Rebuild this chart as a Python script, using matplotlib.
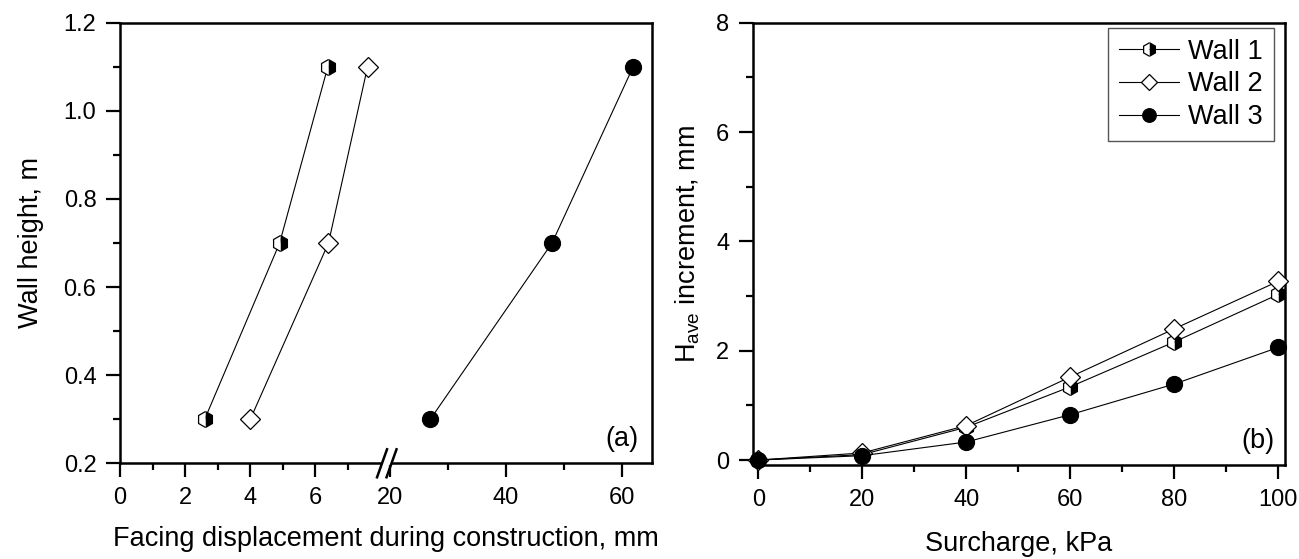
import matplotlib
matplotlib.use('Agg')
import matplotlib.pyplot as plt
import numpy as np

plt.rcParams['font.family'] = ['Liberation Sans', 'DejaVu Sans']
plt.rcParams['mathtext.fontset'] = 'custom'
plt.rcParams['mathtext.rm'] = 'Liberation Sans'
plt.rcParams['mathtext.it'] = 'Liberation Sans'

# (a) facing displacement vs wall height
height = [0.3, 0.7, 1.1]
disp_w1 = [2.6, 4.9, 6.38]
disp_w2 = [4.0, 6.4, 7.6]
disp_w3 = [27.0, 48.0, 62.0]

# (b) H_ave increment vs surcharge
surcharge = [0, 20, 40, 60, 80, 100]
hinc_w1 = [0.0, 0.10, 0.60, 1.34, 2.16, 3.03]
hinc_w2 = [0.0, 0.13, 0.63, 1.52, 2.40, 3.27]
hinc_w3 = [0.0, 0.08, 0.33, 0.83, 1.39, 2.06]

labels = ['Wall 1', 'Wall 2', 'Wall 3']

TICK_FS = 17
LABEL_FS = 19.5

# broken x axis: 0-8.15 stretched, 19.6 upwards compressed
brk_x = [-100, 0, 8.15, 19.6, 1000]
brk_p = [-100, 0, 8.15, 8.211, 8.211 + 980.4 * 0.1779]

def fwd(x):
    return np.interp(x, brk_x, brk_p)

def inv(p):
    return np.interp(p, brk_p, brk_x)

styles = [
    dict(marker='h', fillstyle='right', markerfacecolor='black',
         markerfacecoloralt='white', markeredgecolor='black', ms=11.5),
    dict(marker='D', markerfacecolor='white', markeredgecolor='black', ms=10),
    dict(marker='o', markerfacecolor='black', markeredgecolor='black', ms=11.5),
]

fig = plt.figure(figsize=(12.99, 5.59), dpi=100)
ax1 = fig.add_axes([0.0924, 0.1712, 0.4093, 0.7882])
ax2 = fig.add_axes([0.5797, 0.1682, 0.4095, 0.7912])

for xs, st in zip([disp_w1, disp_w2, disp_w3], styles):
    ax1.plot(xs, height, color='black', lw=0.8, mew=0.9, **st)

ax1.set_xscale('function', functions=(fwd, inv))
ax1.set_xlim(0, 65.2)
ax1.set_ylim(0.2, 1.2)
ax1.set_xticks([0, 2, 4, 6, 20, 40, 60])
ax1.set_xticks([1, 3, 5, 7, 30, 50], minor=True)
ax1.set_xticklabels(['0', '2', '4', '6', '20', '40', '60'])
ax1.set_yticks([0.2, 0.4, 0.6, 0.8, 1.0, 1.2])
ax1.set_yticks([0.3, 0.5, 0.7, 0.9, 1.1], minor=True)
ax1.set_yticklabels(['0.2', '0.4', '0.6', '0.8', '1.0', '1.2'])
ax1.set_xlabel('Facing displacement during construction, mm', fontsize=LABEL_FS, labelpad=12)
ax1.set_ylabel('Wall height, m', fontsize=LABEL_FS, labelpad=14)
ax1.text(0.975, 0.025, '(a)', transform=ax1.transAxes, ha='right', va='bottom',
         fontsize=LABEL_FS)

# break marks on the bottom axis
w_ax = 531.7
h_ax = 440.6
ax1.plot([0.497, 0.506], [0, 0], transform=ax1.transAxes, color='white',
         lw=3, clip_on=False, zorder=5)
for cx in [(382 - 120) / w_ax, (391.5 - 120) / w_ax]:
    ax1.plot([cx - 5 / w_ax, cx + 5 / w_ax], [-14 / h_ax, 14 / h_ax],
             transform=ax1.transAxes, color='black', lw=1.8, clip_on=False,
             zorder=6)

for ys, st, lab in zip([hinc_w1, hinc_w2, hinc_w3], styles, labels):
    ax2.plot(surcharge, ys, color='black', lw=0.8, mew=0.9, label=lab,
             clip_on=False, zorder=4, **st)

ax2.set_xlim(-1, 101.3)
ax2.set_ylim(-0.09, 8)
ax2.set_xticks([0, 20, 40, 60, 80, 100])
ax2.set_xticks([10, 30, 50, 70, 90], minor=True)
ax2.set_yticks([0, 2, 4, 6, 8])
ax2.set_yticks([1, 3, 5, 7], minor=True)
ax2.set_xlabel('Surcharge, kPa', fontsize=LABEL_FS, labelpad=15)
ax2.set_ylabel(r'H$_{\mathrm{ave}}$ increment, mm', fontsize=LABEL_FS, labelpad=10)
ax2.text(0.98, 0.025, '(b)', transform=ax2.transAxes, ha='right', va='bottom',
         fontsize=LABEL_FS)

leg = ax2.legend(loc='upper right', bbox_to_anchor=(1 - 11 / 532, 1 - 5 / 442),
                 borderaxespad=0, fontsize=LABEL_FS, fancybox=False,
                 edgecolor='#555555', framealpha=1, handlelength=2.2,
                 handletextpad=0.35, labelspacing=0.25, borderpad=0.4,
                 markerscale=0.85)
leg.get_frame().set_linewidth(1.0)

for ax in (ax1, ax2):
    for sp in ax.spines.values():
        sp.set_linewidth(1.8)
    ax.tick_params(which='major', direction='out', length=10, width=1.6,
                   labelsize=TICK_FS, pad=7)
    ax.tick_params(which='minor', direction='out', length=5, width=1.6)

fig.savefig('out.png', dpi=100)
